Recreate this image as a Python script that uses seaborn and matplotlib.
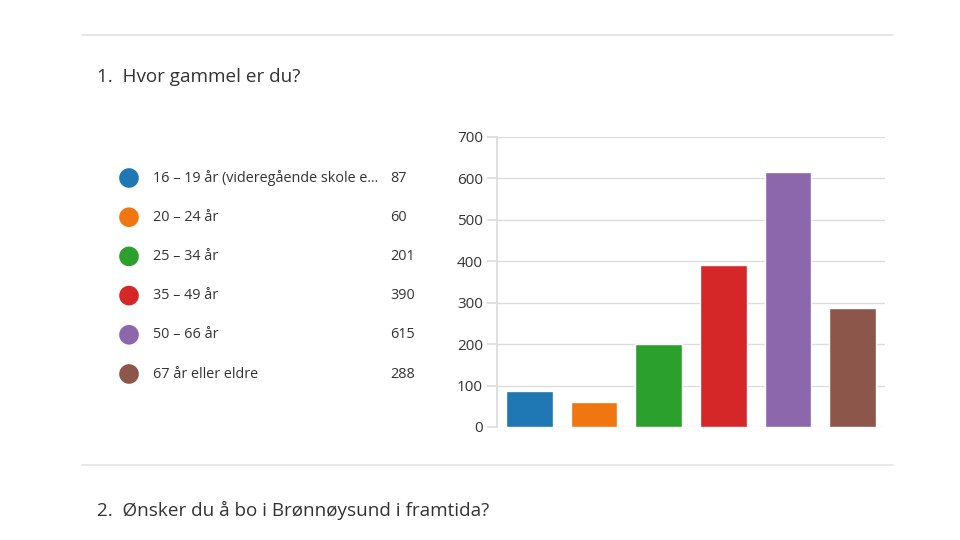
import matplotlib
matplotlib.use("Agg")
import matplotlib.pyplot as plt
import seaborn as sns
import pandas as pd
from matplotlib.lines import Line2D

categories = ["16 – 19 år (videregående skole e...", "20 – 24 år", "25 – 34 år",
              "35 – 49 år", "50 – 66 år", "67 år eller eldre"]
values = [87, 60, 201, 390, 615, 288]
colors = ["#1f77b4", "#f07612", "#2ca02c", "#d62728", "#8c67ac", "#8c564b"]
yticks = [0, 100, 200, 300, 400, 500, 600, 700]
title1 = "1.  Hvor gammel er du?"
title2 = "2.  Ønsker du å bo i Brønnøysund i framtida?"

sns.set_theme(style="white")
plt.rcParams["font.family"] = ["Open Sans", "DejaVu Sans"]
txt = "#333333"

W, H = 960, 540
fig = plt.figure(figsize=(9.6, 5.4), dpi=100)

def rect(l, t, r, b):
    return [l / W, 1 - b / H, (r - l) / W, (b - t) / H]

df = pd.DataFrame({"cat": categories, "val": values, "idx": range(len(values))})

# Bar chart
ax = fig.add_axes(rect(497, 137, 885, 427))
sns.barplot(data=df, x="cat", y="val", hue="cat", palette=colors, legend=False,
            width=0.72, saturation=1, ax=ax, zorder=3)
ax.set_xlim(-0.5, len(values) - 0.5)
ax.set_ylim(0, 700)
ax.set_yticks(yticks)
ax.set_yticklabels([str(v) for v in yticks], fontsize=11, color=txt)
ax.set_xticks([])
ax.set_xlabel("")
ax.set_ylabel("")
ax.grid(axis="y", color="#dcdcdc", linewidth=1, zorder=0)
for s in ["top", "right", "bottom"]:
    ax.spines[s].set_visible(False)
ax.spines["left"].set_color("#dcdcdc")
ax.tick_params(axis="y", length=7, color="#dcdcdc", pad=3, left=True)

# Legend
lax = fig.add_axes(rect(100, 158.4, 440, 393.6))
lax.set_xlim(100, 440)
lax.set_ylim(len(values) - 0.5, -0.5)
lax.axis("off")
df["x"] = 129
sns.scatterplot(data=df, x="x", y="idx", hue="cat", palette=colors, s=200,
                linewidth=0, legend=False, ax=lax)
for i, (c, v) in enumerate(zip(categories, values)):
    lax.text(153, i, c, va="center", ha="left", fontsize=10.4, color=txt)
    lax.text(390, i, str(v), va="center", ha="left", fontsize=10.4, color=txt)
lax.set_xlabel("")
lax.set_ylabel("")

# Titles and separators
fig.text(97 / W, 1 - 82.5 / H, title1, fontsize=13.6, color=txt, va="baseline")
fig.text(97 / W, 1 - 516 / H, title2, fontsize=13.6, color=txt, va="baseline")
for y in [35, 465]:
    fig.add_artist(Line2D([82 / W, 893 / W], [1 - y / H, 1 - y / H],
                          color="#e3e3e3", linewidth=1.2))

fig.savefig("out.png", dpi=100, facecolor="white")
